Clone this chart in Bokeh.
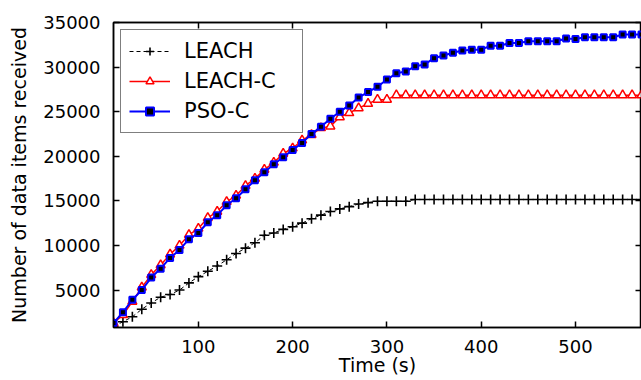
from bokeh.plotting import figure
from bokeh.models import Range1d, LinearAxis, FixedTicker, Legend, LegendItem
from bokeh.embed import file_html
from bokeh.resources import INLINE

time_s = [10, 20, 30, 40, 50, 60, 70, 80, 90, 100,
          110, 120, 130, 140, 150, 160, 170, 180, 190, 200,
          210, 220, 230, 240, 250, 260, 270, 280, 290, 300,
          310, 320, 330, 340, 350, 360, 370, 380, 390, 400,
          410, 420, 430, 440, 450, 460, 470, 480, 490, 500,
          510, 520, 530, 540, 550, 560, 570]

leach = [900, 1450, 2000, 2850, 3550, 4200, 4500, 5000, 5800, 6500,
         7100, 7700, 8400, 9100, 9700, 10300, 11150, 11400, 11800, 12100,
         12500, 13000, 13400, 13800, 14100, 14350, 14650, 14800, 14950, 14950,
         14950, 14950, 15150, 15150, 15150, 15150, 15150, 15150, 15150, 15150,
         15150, 15150, 15150, 15150, 15150, 15150, 15150, 15150, 15150, 15150,
         15150, 15150, 15150, 15150, 15150, 15150, 15150]

leach_c = [1300, 2200, 3700, 5300, 6700, 7800, 9000, 10000, 11200, 11900,
           13100, 13800, 14900, 15600, 16700, 17500, 18500, 19300, 20300, 20900,
           21800, 22400, 23170, 23350, 24400, 24850, 25400, 25900, 26350, 26350,
           26850, 26850, 26850, 26850, 26850, 26850, 26850, 26850, 26850, 26850,
           26850, 26850, 26850, 26850, 26850, 26850, 26850, 26850, 26850, 26850,
           26850, 26850, 26850, 26850, 26850, 26850, 26850]

pso_c = [1300, 2500, 3900, 5000, 6400, 7400, 8600, 9500, 10700, 11400,
         12600, 13400, 14500, 15300, 16300, 17300, 18200, 19100, 19900, 20700,
         21500, 22500, 23300, 24200, 25000, 25700, 26600, 27200, 27800, 28600,
         29300, 29500, 30100, 30300, 31000, 31300, 31600, 31850, 31950, 31950,
         32400, 32400, 32700, 32700, 32900, 32900, 32900, 32900, 33200, 33150,
         33350, 33350, 33350, 33350, 33650, 33650, 33650]

x_ticks = [100, 200, 300, 400, 500]
y_ticks = [5000, 10000, 15000, 20000, 25000, 30000, 35000]

FONT = "DejaVu Sans"

p = figure(width=641, height=380, output_backend="svg", toolbar_location=None,
           x_range=Range1d(10, 570), y_range=Range1d(800, 35000),
           min_border_left=113, min_border_right=0, min_border_top=22, min_border_bottom=53,
           background_fill_color="white", border_fill_color="white")
p.grid.visible = False
p.outline_line_color = "black"
p.outline_line_width = 1.5

for ax, ticks in ((p.xaxis[0], x_ticks), (p.yaxis[0], y_ticks)):
    ax.ticker = FixedTicker(ticks=ticks)
    ax.major_tick_in = 6
    ax.major_tick_out = 0
    ax.minor_tick_in = 0
    ax.minor_tick_out = 0
    ax.axis_line_color = "black"
    ax.axis_line_width = 1.5
    ax.major_tick_line_width = 1.5
    ax.major_label_text_font = FONT
    ax.major_label_text_font_size = "18px"
    ax.major_label_text_color = "black"
    ax.axis_label_text_font = FONT
    ax.axis_label_text_font_size = "19px"
    ax.axis_label_text_font_style = "normal"
    ax.axis_label_text_color = "black"

p.xaxis[0].axis_label = "Time (s)"
p.xaxis[0].major_label_standoff = 12
p.xaxis[0].axis_label_standoff = -2
p.yaxis[0].axis_label = "Number of data items received"
p.yaxis[0].major_label_standoff = 13
p.yaxis[0].axis_label_standoff = 10

for loc, ticks in (("above", x_ticks), ("right", y_ticks)):
    a = LinearAxis(ticker=FixedTicker(ticks=ticks))
    a.major_tick_in = 6
    a.major_tick_out = 0
    a.minor_tick_in = 0
    a.minor_tick_out = 0
    a.major_label_text_font_size = "1px"
    a.major_label_text_color = None
    a.major_label_standoff = 0
    a.axis_line_color = "black"
    a.axis_line_width = 1.5
    a.major_tick_line_width = 1.5
    p.add_layout(a, loc)

# LEACH
l1 = p.line(time_s, leach, line_color="black", line_width=1, line_dash="4 3")
m1 = p.scatter(time_s, leach, marker="cross", size=10, line_color="black", line_width=1.6)
# LEACH-C
l2 = p.line(time_s, leach_c, line_color="#FF0000", line_width=1.5)
m2 = p.scatter(time_s, leach_c, marker="triangle", size=9, line_color="#FF0000",
               fill_color="white", line_width=1.5)
# PSO-C
l3 = p.line(time_s, pso_c, line_color="#0000FF", line_width=2)
m3 = p.scatter(time_s, pso_c, marker="square", size=6, line_color="#0000FF",
               fill_color="black", line_width=2)

legend = Legend(items=[
    LegendItem(label="LEACH", renderers=[l1, m1]),
    LegendItem(label="LEACH-C", renderers=[l2, m2]),
    LegendItem(label="PSO-C", renderers=[l3, m3]),
], location="top_left")
legend.label_text_font = FONT
legend.label_text_font_size = "21px"
legend.label_text_color = "black"
legend.glyph_width = 41
legend.glyph_height = 20
legend.label_height = 26
legend.label_width = 110
legend.label_standoff = 14
legend.spacing = 4
legend.padding = 8
legend.margin = 7
legend.border_line_color = "black"
legend.border_line_width = 1.5
legend.background_fill_color = "white"
legend.background_fill_alpha = 1.0
p.add_layout(legend, "center")

open("out.html", "w").write(file_html(p, INLINE))
